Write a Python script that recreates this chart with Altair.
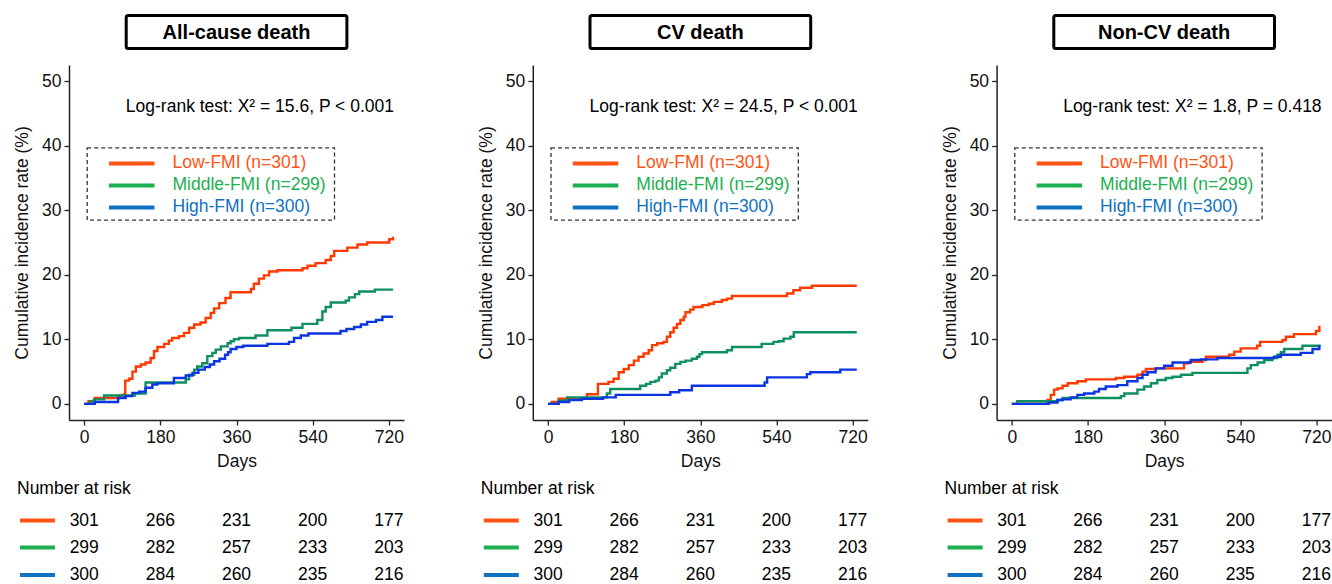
import altair as alt
import pandas as pd

FONT = "Liberation Sans"
FS = 17.5
TITLES = ["All-cause death", "CV death", "Non-CV death"]
LOGRANK = [
    "Log-rank test: X\u00b2 = 15.6, P < 0.001",
    "Log-rank test: X\u00b2 = 24.5, P < 0.001",
    "Log-rank test: X\u00b2 = 1.8, P = 0.418",
]
GROUPS = ["Low-FMI", "Middle-FMI", "High-FMI"]
GROUP_LABELS = ["Low-FMI (n=301)", "Middle-FMI (n=299)", "High-FMI (n=300)"]
CURVE_COLORS = ["#FF3A00", "#0E8F5E", "#0A35E0"]
KEY_COLORS = ["#FF5414", "#1CB050", "#0F72C0"]

X_TICKS = [0, 180, 360, 540, 720]
Y_TICKS = [0, 10, 20, 30, 40, 50]

# ---- All-cause death ----
all_low_days = [0, 10, 25, 82, 94, 97, 106, 114, 122, 134, 145, 157, 165, 173, 189, 200, 208, 224, 236, 248, 260,
                275, 287, 299, 307, 319, 334, 346, 394, 401, 413, 425, 437, 457, 516, 528, 547, 571, 583, 591, 622,
                646, 669, 721, 730]
all_low_vals = [0, 0.4, 0.9, 1.3, 1.5, 3.6, 3.9, 5.0, 5.8, 6.1, 6.4, 7.1, 8.2, 8.8, 9.3, 9.8, 10.2, 10.5, 11.0, 11.8,
                12.3, 12.6, 13.3, 14.1, 14.8, 15.6, 16.4, 17.3, 17.8, 18.6, 19.4, 19.9, 20.5, 20.7, 21.0, 21.4, 21.8,
                22.3, 22.9, 23.7, 24.2, 24.7, 25.0, 25.5, 25.9]
all_mid_days = [0, 15, 23, 47, 120, 145, 240, 248, 260, 267, 279, 291, 303, 311, 323, 339, 346, 354, 366, 405, 433,
                490, 516, 551, 563, 571, 583, 618, 626, 640, 650, 687, 730]
all_mid_vals = [0, 0.4, 0.7, 1.3, 1.6, 3.3, 3.8, 4.5, 5.3, 5.8, 6.3, 7.4, 7.9, 8.4, 8.9, 9.4, 9.7, 10.0, 10.2, 10.6,
                11.4, 11.8, 12.4, 13.0, 14.3, 15.0, 15.7, 16.0, 16.5, 17.0, 17.4, 17.7, 17.7]
all_high_days = [0, 25, 80, 98, 114, 130, 145, 161, 173, 212, 240, 256, 270, 285, 297, 307, 320, 333, 340, 346, 360,
                 376, 433, 484, 496, 512, 530, 606, 620, 638, 654, 669, 690, 705, 730]
all_high_vals = [0, 0.3, 0.9, 1.2, 1.7, 1.9, 2.5, 3.0, 3.2, 4.0, 4.4, 4.8, 5.3, 5.7, 6.1, 6.6, 7.0, 7.6, 8.0, 8.5,
                 8.8, 9.0, 9.3, 9.6, 10.2, 10.6, 10.9, 11.3, 11.6, 11.9, 12.3, 12.7, 13.0, 13.5, 13.5]

# ---- CV death ----
cv_low_days = [0, 9, 25, 92, 118, 143, 155, 167, 179, 191, 203, 214, 226, 238, 246, 258, 273, 281, 289, 297, 305, 313,
               321, 325, 336, 344, 365, 380, 392, 411, 423, 435, 565, 580, 596, 624, 730]
cv_low_vals = [0, 0.3, 0.8, 1.5, 3.1, 3.4, 3.9, 4.9, 5.4, 6.0, 6.7, 7.3, 7.8, 8.3, 9.1, 9.4, 9.6, 10.4, 11.1, 11.8,
               12.4, 13.0, 13.5, 14.2, 14.6, 15.0, 15.3, 15.5, 15.8, 16.1, 16.3, 16.7, 17.1, 17.6, 18.0, 18.3, 18.3]
cv_mid_days = [0, 25, 45, 139, 147, 218, 232, 242, 254, 262, 269, 281, 289, 301, 313, 325, 340, 352, 358, 364, 423,
               435, 505, 533, 545, 557, 573, 581, 730]
cv_mid_vals = [0, 0.5, 1.0, 1.6, 2.3, 2.8, 3.1, 3.4, 3.6, 4.1, 4.7, 5.2, 5.6, 6.2, 6.5, 6.7, 7.0, 7.3, 7.7, 8.0,
               8.3, 8.8, 9.3, 9.6, 9.7, 10.1, 10.4, 11.1, 11.1]
cv_high_days = [0, 25, 50, 80, 130, 160, 289, 310, 340, 512, 518, 612, 620, 691, 730]
cv_high_vals = [0, 0.3, 0.6, 0.8, 1.0, 1.4, 1.8, 2.1, 2.8, 3.3, 4.1, 4.6, 4.9, 5.3, 5.3]

# ---- Non-CV death ----
ncv_low_days = [0, 84, 92, 100, 108, 120, 132, 155, 175, 246, 266, 297, 309, 317, 340, 407, 419, 451, 459, 514, 526,
                541, 580, 587, 640, 648, 667, 719, 727, 730]
ncv_low_vals = [0, 0.6, 1.4, 2.2, 2.4, 2.8, 3.2, 3.5, 3.8, 4.0, 4.2, 4.5, 5.0, 5.4, 5.5, 6.3, 6.5, 6.8, 7.3, 7.6,
                8.1, 8.6, 9.0, 9.6, 9.9, 10.4, 10.8, 11.3, 11.9, 11.9]
ncv_mid_days = [0, 13, 108, 120, 258, 266, 297, 313, 329, 344, 364, 380, 400, 427, 557, 565, 581, 597, 616, 628, 636,
                644, 687, 730]
ncv_mid_vals = [0, 0.4, 0.6, 0.9, 1.2, 1.6, 2.2, 2.7, 3.2, 3.7, 4.0, 4.2, 4.5, 4.8, 5.5, 6.0, 6.4, 6.8, 7.1, 7.6,
                8.0, 8.5, 9.0, 9.0]
ncv_high_days = [0, 88, 108, 120, 139, 155, 171, 195, 206, 222, 250, 273, 297, 309, 321, 340, 360, 380, 423, 447, 486,
                 620, 636, 683, 711, 727, 730]
ncv_high_vals = [0, 0.2, 0.6, 0.7, 1.0, 1.4, 1.6, 1.9, 2.3, 2.7, 2.9, 3.5, 4.0, 4.5, 4.9, 5.5, 5.9, 6.4, 6.8, 6.9,
                 7.1, 7.3, 7.6, 7.9, 8.5, 8.9, 8.9]

CURVES = [
    [(all_low_days, all_low_vals), (all_mid_days, all_mid_vals), (all_high_days, all_high_vals)],
    [(cv_low_days, cv_low_vals), (cv_mid_days, cv_mid_vals), (cv_high_days, cv_high_vals)],
    [(ncv_low_days, ncv_low_vals), (ncv_mid_days, ncv_mid_vals), (ncv_high_days, ncv_high_vals)],
]

# Number at risk
risk_days = [0, 180, 360, 540, 720]
risk_low = [301, 266, 231, 200, 177]
risk_mid = [299, 282, 257, 233, 203]
risk_high = [300, 284, 260, 235, 216]
RISK = [risk_low, risk_mid, risk_high]

W, H = 335, 355
ONE = pd.DataFrame({"k": [0]})


def panel(k, anchor=False):
    xs = alt.Scale(domain=[-36, 756], nice=False, zero=False)
    xaxis = alt.Axis(values=X_TICKS, title="Days", labelFlush=False)
    ys = alt.Scale(domain=[-2.5, 52.5], nice=False, zero=False)
    yaxis = alt.Axis(values=Y_TICKS, title="Cumulative incidence rate (%)")

    layers = []
    for g, (d, v), c in zip(GROUPS, CURVES[k], CURVE_COLORS):
        df = pd.DataFrame({"day": d, "value": v, "group": g})
        layers.append(
            alt.Chart(df).mark_line(interpolate="step-after", strokeWidth=2.4, color=c).encode(
                x=alt.X("day:Q", scale=xs, axis=xaxis),
                y=alt.Y("value:Q", scale=ys, axis=yaxis),
            )
        )

    # title box
    layers.append(alt.Chart(ONE).mark_rect(fill="white", stroke="black", strokeWidth=3, cornerRadius=2).encode(
        x=alt.value(57.2), x2=alt.value(277.9), y=alt.value(-49.5), y2=alt.value(-16.5)))
    layers.append(alt.Chart(ONE).mark_text(text=TITLES[k], font=FONT, fontSize=20, fontWeight="bold",
                                           color="black", align="center", baseline="middle").encode(
        x=alt.value(167.5), y=alt.value(-32.5)))

    # log-rank text
    layers.append(alt.Chart(ONE).mark_text(text=LOGRANK[k], font=FONT, fontSize=FS, color="black",
                                           align="right", baseline="middle").encode(
        x=alt.value(325), y=alt.value(42.4)))

    # legend box
    layers.append(alt.Chart(ONE).mark_rect(fill="white", fillOpacity=0, stroke="#333333", strokeWidth=1.3,
                                           strokeDash=[4, 3]).encode(
        x=alt.value(18.2), x2=alt.value(265.5), y=alt.value(82.9), y2=alt.value(155.2)))
    for i, (lab, c) in enumerate(zip(GROUP_LABELS, KEY_COLORS)):
        yy = 98.4 + i * 22
        layers.append(alt.Chart(ONE).mark_rule(color=c, strokeWidth=4).encode(
            x=alt.value(40), x2=alt.value(85.5), y=alt.value(yy)))
        layers.append(alt.Chart(ONE).mark_text(text=lab, font=FONT, fontSize=FS, color=c, align="left",
                                               baseline="middle").encode(x=alt.value(103.5), y=alt.value(yy)))

    # number at risk table
    layers.append(alt.Chart(ONE).mark_text(text="Number at risk", font=FONT, fontSize=FS, color="black",
                                           align="left", baseline="middle").encode(
        x=alt.value(-52), y=alt.value(424)))
    row_y = [455.5, 482.5, 510]
    for vals, c, yy in zip(RISK, KEY_COLORS, row_y):
        layers.append(alt.Chart(ONE).mark_rule(color=c, strokeWidth=4).encode(
            x=alt.value(-49), x2=alt.value(-14), y=alt.value(yy)))
        rdf = pd.DataFrame({"day": risk_days, "n": vals})
        layers.append(alt.Chart(rdf).mark_text(font=FONT, fontSize=FS, color="black", align="center",
                                               baseline="middle").encode(
            x=alt.X("day:Q", scale=xs, axis=xaxis), y=alt.value(yy), text=alt.Text("n:Q", format="d")))

    if anchor:
        layers.append(alt.Chart(ONE).mark_point(opacity=0, size=1, strokeWidth=0, filled=True).encode(
            x=alt.value(-67.8), y=alt.value(-63.8)))

    return alt.layer(*layers).properties(width=W, height=H)


chart = alt.hconcat(panel(0, anchor=True), panel(1), panel(2), spacing=128.8, bounds="flush").properties(
    padding=0
).configure_view(stroke=None).configure_axis(
    domainColor="#222222", domainWidth=1.5, tickColor="#222222", tickWidth=1.3, tickSize=5,
    labelFont=FONT, labelFontSize=FS, labelColor="#111111", labelPadding=3,
    titleFont=FONT, titleFontSize=FS, titleFontWeight="normal", titleColor="#111111", grid=False,
).configure_axisY(titlePadding=10).configure_axisX(titlePadding=7)

chart.save("out.html", embed_options={"renderer": "svg", "actions": False})
